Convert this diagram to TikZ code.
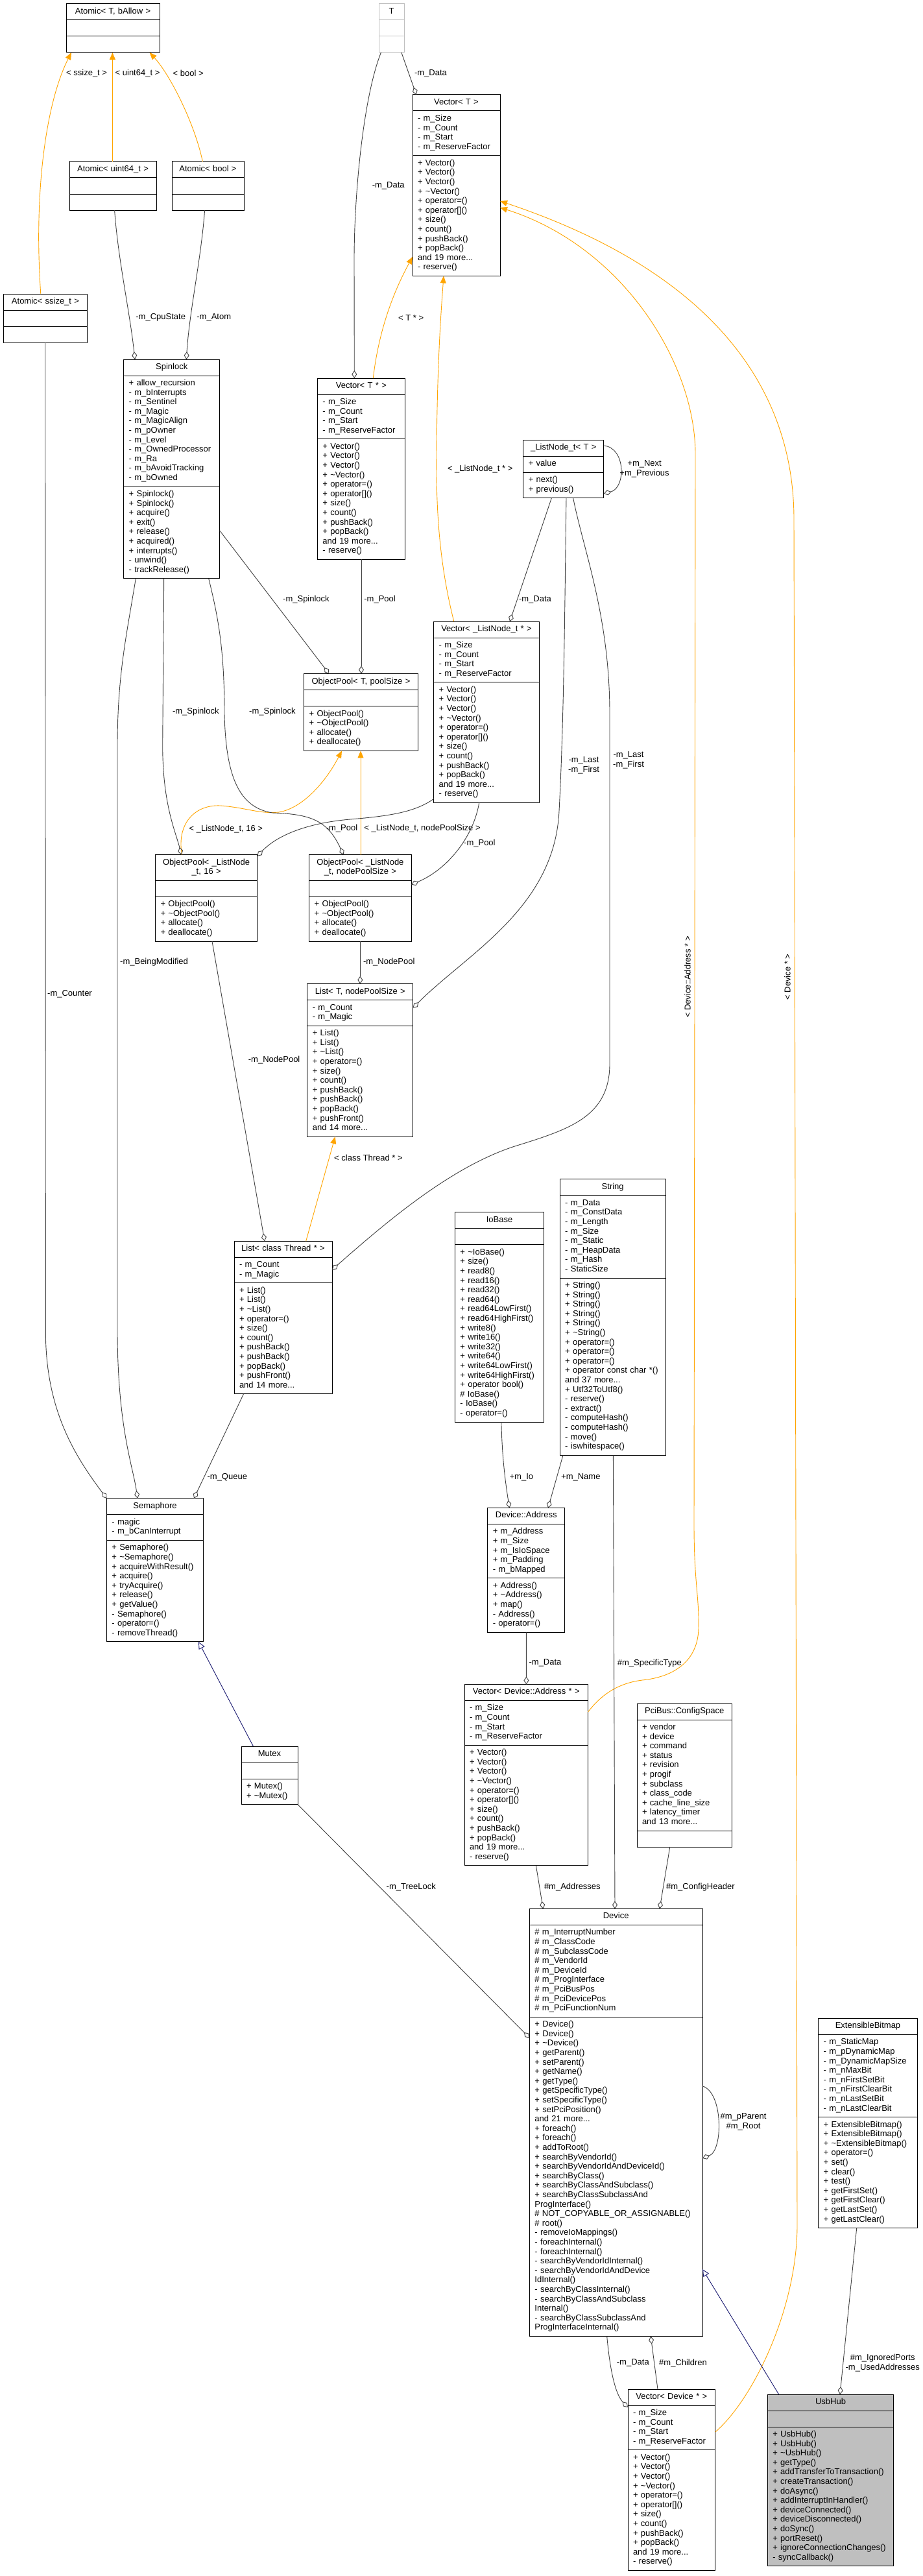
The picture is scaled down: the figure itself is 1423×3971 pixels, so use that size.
\documentclass[tikz,border=0pt]{standalone}
\usepackage{fontspec}
\setmainfont{Liberation Sans}
\usetikzlibrary{arrows.meta, calc}
\definecolor{EdgeGray}{HTML}{404040}
\definecolor{TmplOrange}{HTML}{FFA500}
\definecolor{InhBlue}{HTML}{191970}
\definecolor{BoxGray}{HTML}{BFBFBF}
\newcommand{\umlfont}{\fontsize{13}{14.6}\selectfont}
\newcommand{\dtor}{\textasciitilde}
% one class box: title, attributes, methods
\newcommand{\umlclass}[7][]{%
  \node[umlpart, align=center, text width={#4-16}, anchor=north west, #1] (#2) at #3 {#5};
  \node[umlpart, text width={#4-16}, anchor=north west, #1] (#2-a) at (#2.south west) {#6};
  \node[umlpart, text width={#4-16}, anchor=north west, #1] (#2-m) at (#2-a.south west) {#7};
}
\newcommand{\vecattrs}{- m\_Size\\- m\_Count\\- m\_Start\\- m\_ReserveFactor}
\newcommand{\vecmeths}{+ Vector()\\+ Vector()\\+ Vector()\\+ \dtor Vector()\\+ operator=()\\+ operator[]()\\+ size()\\+ count()\\+ pushBack()\\+ popBack()\\and 19 more...\\- reserve()}
\newcommand{\poolmeths}{+ ObjectPool()\\+ \dtor ObjectPool()\\+ allocate()\\+ deallocate()}
\newcommand{\listmeths}{+ List()\\+ List()\\+ \dtor List()\\+ operator=()\\+ size()\\+ count()\\+ pushBack()\\+ pushBack()\\+ popBack()\\+ pushFront()\\and 14 more...}

\begin{document}
\begin{tikzpicture}[x=1pt, y=-1pt,
    umlpart/.style={draw=black, line width=1pt, fill=white, font=\umlfont, inner xsep=8pt, inner ysep=5.2pt, outer sep=0pt, align=left, execute at begin node=\strut, execute at end node=\strut},
    lbl/.style={font=\umlfont, inner sep=0pt, align=center},
    aggr/.style={draw=EdgeGray, line width=0.9pt, -{Diamond[open, length=12pt, width=8pt]}},
    tmpl/.style={draw=TmplOrange, line width=0.9pt, -{Triangle[length=11pt, width=9pt]}},
    inh/.style={draw=InhBlue, line width=0.9pt, -{Triangle[open, length=11pt, width=10pt]}}]
  \fill[white] (0,0) rectangle (1423,3971);
  \useasboundingbox (0,0) rectangle (1423,3971);

  % 1. Atomic templates and T
  \umlclass{atomT}{(102,6)}{144}{Atomic< T, bAllow >}{}{}
  \umlclass[draw=BoxGray]{tT}{(584,6)}{39}{T}{}{}
  \umlclass{atom64}{(107,249)}{134}{Atomic< uint64\_t >}{}{}
  \umlclass{atomB}{(265,249)}{111}{Atomic< bool >}{}{}
  \umlclass{atomS}{(5.5,453)}{129}{Atomic< ssize\_t >}{}{}

  % 2. Vectors, Spinlock, list nodes
  \umlclass{vecT}{(636,146)}{135}{Vector< T >}{\vecattrs}{\vecmeths}
  \umlclass{spin}{(190.7,554)}{148}{Spinlock}
    {+ allow\_recursion\\- m\_bInterrupts\\- m\_Sentinel\\- m\_Magic\\- m\_MagicAlign\\- m\_pOwner\\- m\_Level\\- m\_OwnedProcessor\\- m\_Ra\\- m\_bAvoidTracking\\- m\_bOwned}
    {+ Spinlock()\\+ Spinlock()\\+ acquire()\\+ exit()\\+ release()\\+ acquired()\\+ interrupts()\\- unwind()\\- trackRelease()}
  \umlclass{vecTp}{(489.4,583)}{135}{Vector< T * >}{\vecattrs}{\vecmeths}
  \umlclass{lnode}{(806.8,678)}{124}{\_ListNode\_t< T >}{+ value}{+ next()\\+ previous()}
  \umlclass{vecLN}{(668.7,958)}{162.6}{Vector< \_ListNode\_t * >}{\vecattrs}{\vecmeths}

  % 3. Object pools and lists
  \umlclass{opT}{(468.7,1038.6)}{175.6}{ObjectPool< T, poolSize >}{}{\poolmeths}
  \umlclass{op16}{(239.5,1317.7)}{157.2}{ObjectPool< \_ListNode\\\_t, 16 >}{}{\poolmeths}
  \umlclass{opN}{(476.7,1317.7)}{157.5}{ObjectPool< \_ListNode\\\_t, nodePoolSize >}{}{\poolmeths}
  \umlclass{listN}{(473.8,1516.6)}{163}{List< T, nodePoolSize >}{- m\_Count\\- m\_Magic}{\listmeths}
  \umlclass{listTh}{(361,1913.3)}{151}{List< class Thread * >}{- m\_Count\\- m\_Magic}{\listmeths}

  % 4. Semaphore, Mutex
  \umlclass{sem}{(164.4,2309.8)}{149.4}{Semaphore}{- magic\\- m\_bCanInterrupt}
    {+ Semaphore()\\+ \dtor Semaphore()\\+ acquireWithResult()\\+ acquire()\\+ tryAcquire()\\+ release()\\+ getValue()\\- Semaphore()\\- operator=()\\- removeThread()}
  \umlclass{mutex}{(372,2692)}{87}{Mutex}{}{+ Mutex()\\+ \dtor Mutex()}

  % 5. IoBase, String, addresses
  \umlclass{iobase}{(701.4,1868.9)}{137.2}{IoBase}{}
    {+ \dtor IoBase()\\+ size()\\+ read8()\\+ read16()\\+ read32()\\+ read64()\\+ read64LowFirst()\\+ read64HighFirst()\\+ write8()\\+ write16()\\+ write32()\\+ write64()\\+ write64LowFirst()\\+ write64HighFirst()\\+ operator bool()\\\# IoBase()\\- IoBase()\\- operator=()}
  \umlclass{str}{(863.2,1817.9)}{163}{String}
    {- m\_Data\\- m\_ConstData\\- m\_Length\\- m\_Size\\- m\_Static\\- m\_HeapData\\- m\_Hash\\- StaticSize}
    {+ String()\\+ String()\\+ String()\\+ String()\\+ String()\\+ \dtor String()\\+ operator=()\\+ operator=()\\+ operator=()\\+ operator const char *()\\and 37 more...\\+ Utf32ToUtf8()\\- reserve()\\- extract()\\- computeHash()\\- computeHash()\\- move()\\- iswhitespace()}
  \umlclass{addr}{(751.8,2324.5)}{119}{Device::Address}
    {+ m\_Address\\+ m\_Size\\+ m\_IsIoSpace\\+ m\_Padding\\- m\_bMapped}
    {+ Address()\\+ \dtor Address()\\+ map()\\- Address()\\- operator=()}
  \umlclass{vecAddr}{(716,2596.5)}{190.5}{Vector< Device::Address * >}{\vecattrs}{\vecmeths}
  \umlclass{pci}{(982,2626)}{146.4}{PciBus::ConfigSpace}
    {+ vendor\\+ device\\+ command\\+ status\\+ revision\\+ progif\\+ subclass\\+ class\_code\\+ cache\_line\_size\\+ latency\_timer\\and 13 more...}{}

  % 6. Device, bitmap, hub
  \umlclass{dev}{(816.4,2942.5)}{266.6}{Device}
    {\# m\_InterruptNumber\\\# m\_ClassCode\\\# m\_SubclassCode\\\# m\_VendorId\\\# m\_DeviceId\\\# m\_ProgInterface\\\# m\_PciBusPos\\\# m\_PciDevicePos\\\# m\_PciFunctionNum}
    {+ Device()\\+ Device()\\+ \dtor Device()\\+ getParent()\\+ setParent()\\+ getName()\\+ getType()\\+ getSpecificType()\\+ setSpecificType()\\+ setPciPosition()\\and 21 more...\\+ foreach()\\+ foreach()\\+ addToRoot()\\+ searchByVendorId()\\+ searchByVendorIdAndDeviceId()\\+ searchByClass()\\+ searchByClassAndSubclass()\\+ searchByClassSubclassAnd\\ProgInterface()\\\# NOT\_COPYABLE\_OR\_ASSIGNABLE()\\\# root()\\- removeIoMappings()\\- foreachInternal()\\- foreachInternal()\\- searchByVendorIdInternal()\\- searchByVendorIdAndDevice\\IdInternal()\\- searchByClassInternal()\\- searchByClassAndSubclass\\Internal()\\- searchByClassSubclassAnd\\ProgInterfaceInternal()}
  \umlclass{ebm}{(1261.7,3111.5)}{152.6}{ExtensibleBitmap}
    {- m\_StaticMap\\- m\_pDynamicMap\\- m\_DynamicMapSize\\- m\_nMaxBit\\- m\_nFirstSetBit\\- m\_nFirstClearBit\\- m\_nLastSetBit\\- m\_nLastClearBit}
    {+ ExtensibleBitmap()\\+ ExtensibleBitmap()\\+ \dtor ExtensibleBitmap()\\+ operator=()\\+ set()\\+ clear()\\+ test()\\+ getFirstSet()\\+ getFirstClear()\\+ getLastSet()\\+ getLastClear()}
  \umlclass[fill=BoxGray]{usb}{(1183.3,3691)}{194.4}{UsbHub}{}
    {+ UsbHub()\\+ UsbHub()\\+ \dtor UsbHub()\\+ getType()\\+ addTransferToTransaction()\\+ createTransaction()\\+ doAsync()\\+ addInterruptInHandler()\\+ deviceConnected()\\+ deviceDisconnected()\\+ doSync()\\+ portReset()\\+ ignoreConnectionChanges()\\- syncCallback()}
  \umlclass{vecDev}{(968,3683)}{134.7}{Vector< Device * >}{\vecattrs}{\vecmeths}

  % 7. template edges
  \draw[tmpl] ([xshift=57.3]atomS.north west) .. controls (52,300) and (70,160) .. ([xshift=8]atomT-m.south west);
  \draw[tmpl] ([xshift=66.4]atom64.north west) -- ([xshift=71.4]atomT-m.south west);
  \draw[tmpl] ([xshift=47.4]atomB.north west) .. controls (300,190) and (262,115) .. ([xshift=128.7]atomT-m.south west);
  \draw[tmpl] ([xshift=85.9]vecTp.north west) .. controls (585,500) and (612,440) .. ([yshift=-250]vecT.north west);
  \draw[tmpl] ([xshift=31.1]vecLN.north west) .. controls (680,880) and (672,800) .. (673,700) .. controls (674,560) and (680,480) .. ([xshift=48]vecT-m.south west);
  \draw[tmpl] ([yshift=-42.5]vecAddr.north east) .. controls (925,2615) and (950,2595) .. (990,2590) .. controls (1040,2585) and (1076,2560) .. (1077,2510) .. controls (1078,2460) and (1070,2440) .. (1070,2350) -- (1072,700) .. controls (1072,560) and (960,380) .. ([yshift=-174]vecT.north east);
  \draw[tmpl] ([yshift=-66]vecDev.north east) .. controls (1160,3700) and (1229,3560) .. (1229,3430) -- (1224,800) .. controls (1224,600) and (1100,420) .. ([yshift=-164]vecT.north east);
  \draw[tmpl] ([xshift=41]op16.north west) .. controls (272,1270) and (300,1240) .. (340,1242) .. controls (380,1245) and (400,1255) .. (430,1252) .. controls (470,1245) and (505,1200) .. ([xshift=58.3]opT-m.south west);
  \draw[tmpl] ([xshift=79.3]opN.north west) -- ([xshift=87.3]opT-m.south west);
  \draw[tmpl] ([xshift=110.7]listTh.north west) -- ([xshift=42.9]listN-m.south west);
  \node[lbl, anchor=west] (l-ssize) at (102,113) {< ssize\_t >};
  \node[lbl, anchor=west] (l-u64) at (177.5,113) {< uint64\_t >};
  \node[lbl, anchor=west] (l-bool) at (266.5,113) {< bool >};
  \node[lbl, anchor=west] (l-tptr) at (613.9,490) {< T * >};
  \node[lbl, anchor=west] (l-lnptr) at (689.8,723) {< \_ListNode\_t * >};
  \node[lbl, rotate=90] (l-addrptr) at (1060,1506) {< Device::Address * >};
  \node[lbl, rotate=90] (l-devptr) at (1214,1506) {< Device * >};
  \node[lbl, anchor=west] (l-ln16) at (291.4,1278) {< \_ListNode\_t, 16 >};
  \node[lbl, anchor=west] (l-lnN) at (561.2,1277) {< \_ListNode\_t, nodePoolSize >};
  \node[lbl, anchor=west] (l-thr) at (515,1785) {< class Thread * >};

  % 8. member edges
  \draw[aggr] ([xshift=69.6]atom64-m.south west) .. controls (182,400) and (200,480) .. ([xshift=17.3]spin.north west);
  \draw[aggr] ([xshift=50.6]atomB-m.south west) .. controls (310,400) and (292,480) .. ([xshift=96.6]spin.north west);
  \draw[aggr] ([xshift=64.2]atomS-m.south west) -- (70.4,2060) .. controls (72,2180) and (120,2250) .. (sem.north west);
  \draw[aggr] ([xshift=18.6]spin-m.south west) .. controls (195,980) and (181,1040) .. (181,1150) -- (181,2050) .. controls (181,2200) and (205,2260) .. ([xshift=47.6]sem.north west);
  \draw[aggr] ([xshift=62]spin-m.south west) -- (250.7,1150) .. controls (251,1240) and (270,1280) .. ([xshift=40.3]op16.north west);
  \draw[aggr] ([xshift=131]spin-m.south west) .. controls (336,950) and (346,1000) .. (346,1100) .. controls (348,1200) and (370,1245) .. (420,1253) .. controls (480,1255) and (505,1265) .. ([xshift=52.9]opN.north west);
  \draw[aggr] ([yshift=3]spin-m.east) -- ([xshift=38.6]opT.north west);
  \draw[aggr] ([xshift=67.6]vecTp-m.south west) -- ([xshift=88.3]opT.north west);
  \draw[aggr] ([xshift=34.9]tT-m.south west) -- ([xshift=5.8]vecT.north west);
  \draw[aggr] ([xshift=3.4]tT-m.south west) .. controls (560,150) and (546,300) .. (546,400) -- ([xshift=56.9]vecTp.north west);
  \draw[aggr] ([yshift=-9]lnode.north east) .. controls (965,690) and (965,752) .. ([yshift=-83]lnode.north east);
  \draw[aggr] ([xshift=43.6]lnode-m.south west) -- ([xshift=117.3]vecLN.north west);
  \draw[aggr] ([xshift=66.2]lnode-m.south west) .. controls (871,900) and (870,1100) .. (862,1250) .. controls (855,1400) and (720,1470) .. ([yshift=-37]listN.north east);
  \draw[aggr] ([xshift=76.8]lnode-m.south west) .. controls (900,850) and (940,950) .. (940,1100) -- (940,1640) .. controls (940,1720) and (880,1740) .. (800,1765) .. controls (700,1795) and (600,1880) .. ([yshift=-44]listTh.north east);
  \draw[aggr] ([yshift=6]vecLN-m.south west) .. controls (640,1252) and (600,1258) .. (540,1263) .. controls (480,1268) and (430,1285) .. ([yshift=-2]op16.north east);
  \draw[aggr] ([xshift=70]vecLN-m.south west) .. controls (730,1290) and (690,1340) .. ([yshift=-46]opN.north east);
  \draw[aggr] ([xshift=78.6]opN-m.south west) -- ([xshift=81.5]listN.north west);
  \draw[aggr] ([xshift=87.5]op16-m.south west) -- ([xshift=47]listTh.north west);
  \draw[aggr] ([xshift=14.5]listTh-m.south west) -- ([xshift=134.6]sem.north west);
  \draw[aggr] (mutex-m.south east) -- ([yshift=-199]dev.north west);
  \draw[aggr] ([xshift=59.6]addr-m.south west) -- ([xshift=95.4]vecAddr.north west);
  \draw[aggr] ([xshift=71.5]iobase-m.south west) .. controls (774,2250) and (780,2290) .. ([xshift=33.6]addr.north west);
  \draw[aggr] ([xshift=4.8]str-m.south west) -- ([xshift=93.2]addr.north west);
  \draw[aggr] ([xshift=82.2]str-m.south west) -- ([xshift=131.6]dev.north west);
  \draw[aggr] ([xshift=110.4]vecAddr-m.south west) -- ([xshift=20.9]dev.north west);
  \draw[aggr] ([xshift=50.8]pci-m.south west) -- ([xshift=200.6]dev.north west);
  \draw[aggr] ([yshift=-273.3]dev.north east) .. controls (1115,3225) and (1115,3315) .. ([yshift=-384.5]dev.north east);
  \draw[aggr] ([xshift=119.3]dev-m.south west) .. controls (940,3650) and (948,3690) .. ([yshift=-28]vecDev.north west);
  \draw[aggr] ([xshift=46]vecDev.north west) -- ([xshift=186.9]dev-m.south west);
  \draw[aggr] ([xshift=59]ebm-m.south west) -- ([xshift=111.7]usb.north west);
  \node[lbl, anchor=west] (l-cpu) at (209.2,489.6) {-m\_CpuState};
  \node[lbl, anchor=west] (l-atom) at (303.2,489.6) {-m\_Atom};
  \node[lbl, anchor=west] (l-counter) at (73,1532) {-m\_Counter};
  \node[lbl, anchor=west] (l-modif) at (185,1483) {-m\_BeingModified};
  \node[lbl, anchor=west] (l-spin1) at (265.8,1097) {-m\_Spinlock};
  \node[lbl, anchor=west] (l-spin2) at (384,1097) {-m\_Spinlock};
  \node[lbl, anchor=west] (l-spin3) at (436,924) {-m\_Spinlock};
  \node[lbl, anchor=west] (l-pool1) at (561.2,924) {-m\_Pool};
  \node[lbl, anchor=west] (l-dataT) at (638.8,113) {-m\_Data};
  \node[lbl, anchor=west] (l-dataTp) at (573.6,286) {-m\_Data};
  \node[lbl] (l-next) at (993.6,723) {+m\_Next\\+m\_Previous};
  \node[lbl, anchor=west] (l-dataLN) at (799.8,924) {-m\_Data};
  \node[lbl, anchor=west] (l-first1) at (876,1180) {-m\_Last\\-m\_First};
  \node[lbl, anchor=west] (l-first2) at (945,1172) {-m\_Last\\-m\_First};
  \node[lbl, anchor=west] (l-pool2) at (502.6,1277) {-m\_Pool};
  \node[lbl, anchor=west] (l-pool3) at (715,1300) {-m\_Pool};
  \node[lbl, anchor=west] (l-npool1) at (559.8,1483) {-m\_NodePool};
  \node[lbl, anchor=west] (l-npool2) at (382.7,1634) {-m\_NodePool};
  \node[lbl, anchor=west] (l-queue) at (319.4,2277) {-m\_Queue};
  \node[lbl, anchor=east] (l-tree) at (672,2909) {-m\_TreeLock};
  \node[lbl, anchor=west] (l-io) at (785.4,2277) {+m\_Io};
  \node[lbl, anchor=west] (l-name) at (865,2277) {+m\_Name};
  \node[lbl, anchor=west] (l-dataAddr) at (815.4,2563.7) {-m\_Data};
  \node[lbl, anchor=west] (l-spec) at (951.7,2563.7) {\#m\_SpecificType};
  \node[lbl, anchor=west] (l-addrs) at (838.8,2909) {\#m\_Addresses};
  \node[lbl, anchor=west] (l-cfg) at (1026.9,2909) {\#m\_ConfigHeader};
  \node[lbl] (l-parent) at (1146,3271) {\#m\_pParent\\\#m\_Root};
  \node[lbl, anchor=west] (l-dataDev) at (950.7,3642.7) {-m\_Data};
  \node[lbl, anchor=west] (l-child) at (1016,3642.7) {\#m\_Children};
  \node[lbl] (l-ports) at (1360.7,3642.5) {\#m\_IgnoredPorts\\-m\_UsedAddresses};

  % 9. inheritance
  \draw[inh] ([xshift=18.5]mutex.north west) -- ([xshift=141.6]sem-m.south west);
  \draw[inh] ([xshift=17.4]usb.north west) -- ([yshift=-555.5]dev.north east);
\end{tikzpicture}
\end{document}
